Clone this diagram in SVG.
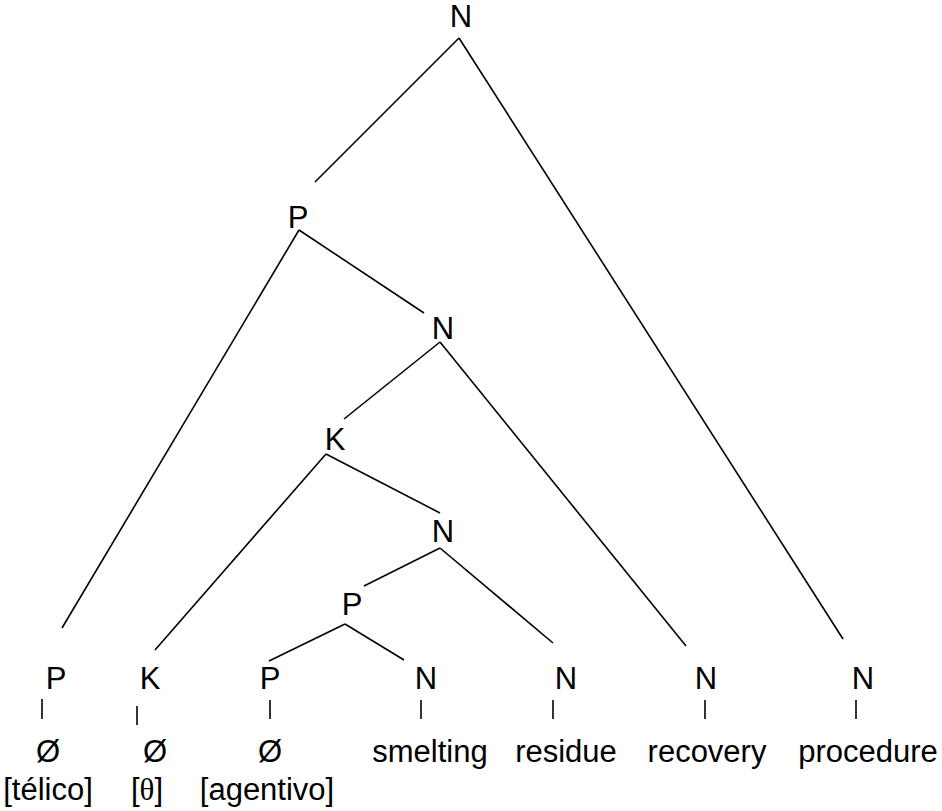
<svg xmlns="http://www.w3.org/2000/svg" width="942" height="811" viewBox="0 0 942 811">
  <style>
    text { font-family: "Liberation Sans", Arial, sans-serif; font-size: 31px; fill: #000; text-anchor: middle; }
    .serif { font-family: "Liberation Serif", "Times New Roman", serif; }
    .edge { stroke: #000; stroke-width: 1.6; fill: none; }
  </style>
  <rect width="942" height="811" fill="#fff"/>

  <!-- branches of the tree -->
  <g id="connectors" class="edge">
    <line x1="459" y1="38" x2="315" y2="182"/>
    <line x1="459" y1="38" x2="843" y2="639"/>
    <line x1="299" y1="230" x2="62" y2="628"/>
    <line x1="299" y1="230" x2="424" y2="313"/>
    <line x1="440" y1="342" x2="344" y2="419"/>
    <line x1="440" y1="342" x2="686" y2="646"/>
    <line x1="326" y1="454" x2="155" y2="650"/>
    <line x1="326" y1="454" x2="440" y2="513"/>
    <line x1="440" y1="548" x2="364" y2="586"/>
    <line x1="440" y1="548" x2="553" y2="643"/>
    <line x1="345" y1="624" x2="269" y2="661"/>
    <line x1="345" y1="624" x2="404" y2="660"/>
    <!-- leaf ticks -->
    <line x1="42" y1="699" x2="42" y2="719"/>
    <line x1="137" y1="706" x2="137" y2="725"/>
    <line x1="270" y1="700" x2="270" y2="719"/>
    <line x1="421" y1="700" x2="421" y2="719"/>
    <line x1="553" y1="700" x2="553" y2="719"/>
    <line x1="705" y1="700" x2="705" y2="719"/>
    <line x1="856" y1="700" x2="856" y2="719"/>
  </g>

  <!-- internal nodes -->
  <g id="n-root"><text x="461" y="27">N</text></g>
  <g id="p-1"><text x="298" y="228">P</text></g>
  <g id="n-2"><text x="443" y="339">N</text></g>
  <g id="k-1"><text x="335" y="450">K</text></g>
  <g id="n-3"><text x="443" y="542">N</text></g>
  <g id="p-2"><text x="352" y="615">P</text></g>

  <!-- leaves -->
  <g id="leaf-telico">
    <text x="56" y="689">P</text>
    <text x="48" y="762">Ø</text>
    <text x="48" y="800">[télico]</text>
  </g>
  <g id="leaf-theta">
    <text x="150" y="689">K</text>
    <text x="155" y="762">Ø</text>
    <text x="147" y="800">[<tspan class="serif">θ</tspan>]</text>
  </g>
  <g id="leaf-agentivo">
    <text x="270" y="689">P</text>
    <text x="270" y="762">Ø</text>
    <text x="267" y="800">[agentivo]</text>
  </g>
  <g id="leaf-smelting">
    <text x="426" y="689">N</text>
    <text x="430" y="762">smelting</text>
  </g>
  <g id="leaf-residue">
    <text x="566" y="689">N</text>
    <text x="566" y="762">residue</text>
  </g>
  <g id="leaf-recovery">
    <text x="706" y="689">N</text>
    <text x="707" y="762">recovery</text>
  </g>
  <g id="leaf-procedure">
    <text x="863" y="689">N</text>
    <text x="868" y="762">procedure</text>
  </g>
</svg>
